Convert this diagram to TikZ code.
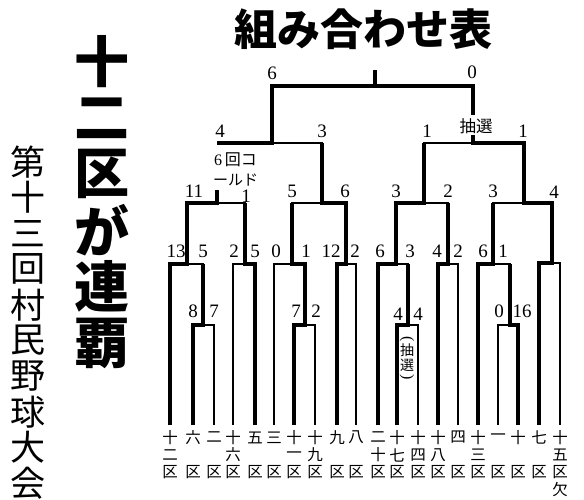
\documentclass[tikz,border=0pt]{standalone}
\usepackage{fontspec}
\setmainfont{Liberation Serif}
\newfontfamily\cjk{Noto Sans CJK JP}
\begin{document}
\begin{tikzpicture}[x=1pt,y=-1pt,
  bline/.style={line width=1.5pt, line join=miter, line cap=butt},
  wline/.style={line width=4pt, line join=miter, line cap=butt},
  mline/.style={line width=3.2pt, line join=miter, line cap=butt},
  score/.style={font=\fontsize{19}{19}\selectfont, inner sep=0pt},
  team/.style={font=\cjk\fontsize{15.5}{15.5}\selectfont, inner sep=0pt},
  big/.style={font=\cjk\bfseries\fontsize{55}{55}\selectfont, inner sep=0pt},
  sub/.style={font=\cjk\fontsize{35}{35}\selectfont, inner sep=0pt},
  ttl/.style={font=\cjk\bfseries\fontsize{43}{43}\selectfont, inner sep=0pt},
  note/.style={font=\cjk\fontsize{15}{15}\selectfont, inner sep=0pt},
  paren/.style={font=\fontsize{16}{16}\selectfont, inner sep=0pt, rotate=-90}]
\useasboundingbox (0,0) rectangle (584,500);
\fill[white] (0,0) rectangle (584,500);

% team line bottoms
\foreach \n/\x in {0/170,1/193,2/214,3/233,4/255,5/274,6/294,7/315,8/337,9/356,10/378,11/397,12/418,13/438,14/458,15/478,16/498,17/518,18/539,19/560}
  \coordinate (t\n) at (\x,425);

% junctions
\coordinate (m1) at (203,325);
\coordinate (m2) at (305,325);
\coordinate (m3) at (408,325);
\coordinate (m4) at (510,325);
\coordinate (r1) at (187,264);
\coordinate (r2) at (245,264);
\coordinate (r3) at (292,264);
\coordinate (r4) at (346,264);
\coordinate (r5) at (396,264);
\coordinate (r6) at (448,264);
\coordinate (r7) at (493,264);
\coordinate (r8) at (552,263);
\coordinate (q1) at (217,203);
\coordinate (q2) at (322,203);
\coordinate (q3) at (424,203);
\coordinate (q4) at (524,203);
\coordinate (s1) at (272,143);
\coordinate (s2) at (473,143);
\coordinate (f) at (375,86);
\coordinate (q1top) at (217,190);
\coordinate (s2a) at (473,135);
\coordinate (s2b) at (473,115);
\coordinate (ftop) at (375,70);

% thin bracket
\draw[bline] (t1) |- (m1) -| (t2);
\draw[bline] (t6) |- (m2) -| (t7);
\draw[bline] (t11) |- (m3) -| (t12);
\draw[bline] (t16) |- (m4) -| (t17);
\draw[bline] (t0) |- (r1) -| (m1);
\draw[bline] (t3) |- (r2) -| (t4);
\draw[bline] (t5) |- (r3) -| (m2);
\draw[bline] (t8) |- (r4) -| (t9);
\draw[bline] (t10) |- (r5) -| (m3);
\draw[bline] (t13) |- (r6) -| (t14);
\draw[bline] (t15) |- (r7) -| (m4);
\draw[bline] (t18) |- (r8) -| (t19);
\draw[bline] (r1) |- (q1) -| (r2);
\draw[bline] (r3) |- (q2) -| (r4);
\draw[bline] (r5) |- (q3) -| (r6);
\draw[bline] (r7) |- (q4) -| (r8);
\draw[bline] (q1) -- (q1top);
\draw[bline] (q1 |- s1) -- (s1) -| (q2);
\draw[bline] (q3) |- (s2) -| (q4);
\draw[bline] (s1) |- (f) -| (s2b);
\draw[bline] (s2a) -- (s2);
\draw[bline] (f) -- (ftop);

% winners' paths
\draw[wline] (t0) |- (r1) |- (q1) -- (q1top);
\draw[wline] (q1 |- s1) -- (s1) |- (f) -- (ftop);
\draw[wline] (t1) |- (m1) -- (m1 |- r1);
\draw[wline] (t4) |- (r2) -- (r2 |- q1);
\draw[wline] (t6) |- (m2) |- (r3) -- (r3 |- q2);
\draw[wline] (t8) |- (r4) |- (q2) -- (q2 |- s1);
\draw[wline] (t10) |- (r5) |- (q3) -- (q3 |- s2);
\draw[wline] (t11) |- (m3) -- (m3 |- r5);
\draw[wline] (t13) |- (r6) -- (r6 |- q3);
\draw[wline] (t15) |- (r7) -- (r7 |- q4);
\draw[wline] (t17) |- (m4) -- (m4 |- r7);
\draw[wline] (t18) |- (r8) |- (q4) |- (s2) -- (s2a);
\draw[mline] (s2b) |- (f);

% scores
\foreach \x/\y/\s [count=\k] in {
  272/73/6, 472/72/0,
  220/131/4, 322/131/3, 427/131/1, 523/131/1,
  194/191/11, 246/196/1, 292/191/5, 345/191/6,
  396/191/3, 448/191/2, 493/191/3, 554/192/4,
  176/251/13, 203/251/5, 234/251/2, 255/251/5,
  276/251/0, 306/251/1, 331/251/12, 355/251/2,
  380/251/6, 410/251/3, 437/251/4, 458/251/2,
  483/251/6, 503/251/1,
  193/311/8, 214/311/7, 296/311/7, 316/311/2,
  398/314/4, 418/314/4, 499/311/0, 522/311/16}
  \node[score] (sc\k) at (\x,\y) {\s};

% notes
\node[anchor=west, inner sep=0pt] (called1) at (214,160) {\fontsize{16}{16}\selectfont 6\,\cjk 回コ};
\node[note, anchor=west] (called2) at (213,180) {ールド};
\node[note, font=\cjk\fontsize{16.5}{16.5}\selectfont] (lot1) at (476,126) {抽選};
\node[paren] (lot2a) at (407,339) {(};
\node[note, font=\cjk\fontsize{14}{14}\selectfont] (lot2b) at (407,350) {抽};
\node[note, font=\cjk\fontsize{14}{14}\selectfont] (lot2c) at (407,365) {選};
\node[paren] (lot2d) at (407,377) {)};

% team labels
\foreach \x/\a in {193/六, 214/二, 255/五, 274/三, 337/九, 356/八, 458/四, 498/一, 518/十, 539/七}
  \node[team] (ta\x) at (\x,437.5) {\a};
\foreach \x/\a/\b in {170/十/二, 233/十/六, 294/十/一, 315/十/九, 378/二/十, 397/十/七, 418/十/四, 438/十/八, 478/十/三, 560/十/五} {
  \node[team] (ta\x) at (\x,437.5) {\a};
  \node[team] (tb\x) at (\x,455) {\b};
}
\foreach \x in {170,193,214,233,255,274,294,315,337,356,378,397,418,438,458,478,498,518,539,560}
  \node[team] (tc\x) at (\x,472.5) {区};
\node[team] (absent) at (560,490) {欠};

% titles
\node[ttl] (title) at (363,29) {組み合わせ表};
\foreach \c [count=\k from 0] in {十,二,区,が,連,覇}
  \node[big] (b\k) at (102,62+56.2*\k) {\c};
\foreach \c [count=\k from 0] in {第,十,三,回,村,民,野,球,大,会}
  \node[sub] (c\k) at (28,162+35.7*\k) {\c};
\end{tikzpicture}
\end{document}
